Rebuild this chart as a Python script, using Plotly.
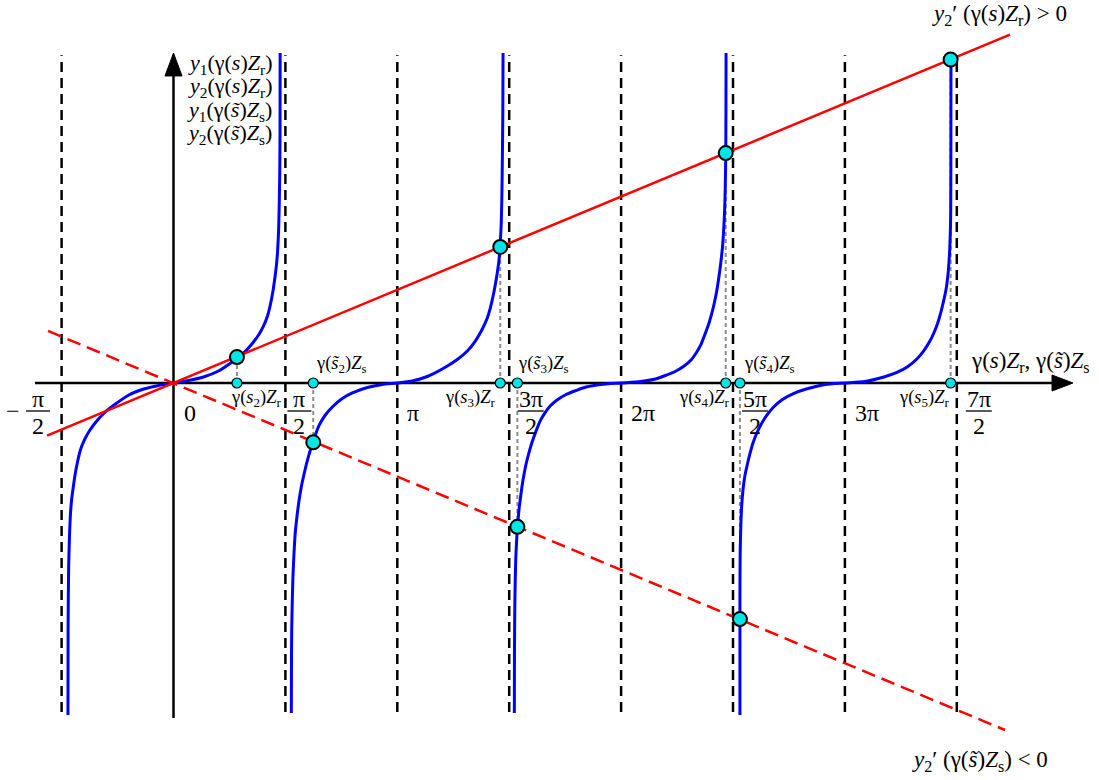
import plotly.graph_objects as go

# ---------------- data (x in units of pi/2, y in the same length unit) ----------------
asym_x = [-1, 1, 2, 3, 4, 5, 6, 7]          # dashed vertical guide lines
asym_y = [-2.94, 2.93]

branch_a_x = [-0.943, -0.942, -0.940, -0.937, -0.930, -0.922, -0.912, -0.898, -0.880, -0.858,
              -0.832, -0.796, -0.752, -0.690, -0.619, -0.531, -0.399, -0.265, -0.133, 0.0,
              0.134, 0.268, 0.402, 0.536, 0.626, 0.697, 0.760, 0.804, 0.840, 0.867,
              0.889, 0.907, 0.920, 0.931, 0.940, 0.946, 0.950, 0.952, 0.953]
branch_a_y = [-2.967, -2.234, -1.921, -1.653, -1.385, -1.189, -1.055, -0.947, -0.822, -0.706,
              -0.599, -0.509, -0.429, -0.344, -0.268, -0.197, -0.107, -0.054, -0.022, 0.0,
              0.022, 0.054, 0.107, 0.197, 0.268, 0.344, 0.429, 0.509, 0.599, 0.706,
              0.822, 0.947, 1.055, 1.189, 1.385, 1.653, 1.921, 2.234, 2.949]

branch_b_x = [1.053, 1.054, 1.056, 1.062, 1.068, 1.077, 1.088, 1.104, 1.120, 1.142,
              1.169, 1.205, 1.249, 1.303, 1.357, 1.419, 1.508, 1.598, 1.732, 1.866, 2.0,
              2.134, 2.268, 2.402, 2.536, 2.626, 2.697, 2.760, 2.804, 2.831, 2.858,
              2.880, 2.896, 2.910, 2.920, 2.929, 2.935, 2.939, 2.943, 2.945]
branch_b_y = [-2.949, -2.592, -2.234, -1.921, -1.716, -1.519, -1.340, -1.189, -1.063, -0.929,
              -0.804, -0.661, -0.518, -0.375, -0.286, -0.214, -0.139, -0.089, -0.040, -0.013, 0.0,
              0.018, 0.058, 0.125, 0.210, 0.286, 0.375, 0.483, 0.581, 0.670, 0.786,
              0.903, 1.001, 1.108, 1.251, 1.430, 1.698, 2.011, 2.413, 2.949]

branch_c_x = [3.046, 3.047, 3.050, 3.054, 3.059, 3.067, 3.077, 3.088, 3.102, 3.115, 3.133, 3.155,
              3.178, 3.205, 3.240, 3.276, 3.321, 3.366, 3.428, 3.508, 3.598, 3.687, 3.821, 4.0,
              4.176, 4.307, 4.396, 4.483, 4.563, 4.625, 4.668, 4.712, 4.747, 4.783, 4.809, 4.831,
              4.853, 4.870, 4.884, 4.897, 4.909, 4.918, 4.926, 4.931, 4.935, 4.937, 4.938]
branch_c_y = [-2.949, -2.413, -2.011, -1.761, -1.564, -1.394, -1.251, -1.126, -1.019, -0.920, -0.813, -0.706,
              -0.617, -0.527, -0.429, -0.340, -0.264, -0.206, -0.152, -0.103, -0.067, -0.036, -0.013, 0.0,
              0.013, 0.036, 0.067, 0.103, 0.152, 0.206, 0.264, 0.340, 0.429, 0.527, 0.617, 0.706,
              0.813, 0.920, 1.019, 1.126, 1.251, 1.394, 1.564, 1.761, 2.011, 2.413, 2.949]

branch_d_x = [5.062, 5.062, 5.063, 5.065, 5.070, 5.077, 5.090, 5.106, 5.129, 5.151, 5.180, 5.213,
              5.248, 5.301, 5.363, 5.442, 5.540, 5.655, 5.823, 6.0,
              6.179, 6.349, 6.465, 6.563, 6.643, 6.706, 6.760, 6.795, 6.828, 6.858, 6.880,
              6.903, 6.919, 6.932, 6.940, 6.945, 6.946, 6.947, 6.948]
branch_d_y = [-2.967, -1.966, -1.653, -1.475, -1.278, -1.108, -0.947, -0.831, -0.724, -0.634, -0.532, -0.447,
              -0.375, -0.290, -0.214, -0.147, -0.094, -0.054, -0.013, 0.0,
              0.013, 0.054, 0.094, 0.147, 0.214, 0.290, 0.375, 0.447, 0.532, 0.634, 0.724,
              0.831, 0.947, 1.108, 1.278, 1.475, 1.653, 1.966, 2.949]

red_pos_x = [-1.130, 7.475]
red_pos_y = [-0.471, 3.113]
red_neg_x = [-1.121, 7.431]
red_neg_y = [0.465, -3.101]

pt_x = [0.567, 1.249, 2.920, 3.073, 4.935, 5.062, 6.945]
pt_y = [0.232, -0.530, 1.216, -1.285, 2.055, -2.110, 2.890]
pt_labels = [
    "γ(<i>s</i><sub>2</sub>)<i>Z</i><sub>r</sub>",
    "γ(<i>s\u0303</i><sub>2</sub>)<i>Z</i><sub>s</sub>",
    "γ(<i>s</i><sub>3</sub>)<i>Z</i><sub>r</sub>",
    "γ(<i>s\u0303</i><sub>3</sub>)<i>Z</i><sub>s</sub>",
    "γ(<i>s</i><sub>4</sub>)<i>Z</i><sub>r</sub>",
    "γ(<i>s\u0303</i><sub>4</sub>)<i>Z</i><sub>s</sub>",
    "γ(<i>s</i><sub>5</sub>)<i>Z</i><sub>r</sub>",
]

frac_vals = [-1, 1, 3, 5, 7]
frac_nums = ["π", "π", "3π", "5π", "7π"]
frac_den = "2"
int_vals = [0, 2, 4, 6]
int_labels = ["0", "π", "2π", "3π"]

y_labels = [
    "<i>y</i><sub>1</sub>(γ(<i>s</i>)<i>Z</i><sub>r</sub>)",
    "<i>y</i><sub>2</sub>(γ(<i>s</i>)<i>Z</i><sub>r</sub>)",
    "<i>y</i><sub>1</sub>(γ(<i>s\u0303</i>)<i>Z</i><sub>s</sub>)",
    "<i>y</i><sub>2</sub>(γ(<i>s\u0303</i>)<i>Z</i><sub>s</sub>)",
]
x_title = "γ(<i>s</i>)<i>Z</i><sub>r</sub>, γ(<i>s\u0303</i>)<i>Z</i><sub>s</sub>"
pos_label = "<i>y</i><sub>2</sub>′ (γ(<i>s</i>)<i>Z</i><sub>r</sub>) &gt; 0"
neg_label = "<i>y</i><sub>2</sub>′ (γ(<i>s\u0303</i>)<i>Z</i><sub>s</sub>) &lt; 0"

# ---------------- layout geometry ----------------
PX = 111.9                       # pixels per data unit
X0, Y0 = 173.5, 383.0            # pixel position of the origin
W, H = 1099, 780
FONT = "Liberation Serif"

fig = go.Figure()

# dashed vertical guides
vx, vy = [], []
for a in asym_x:
    vx += [a, a, None]
    vy += [asym_y[0], asym_y[1], None]
fig.add_trace(go.Scatter(x=vx, y=vy, mode="lines",
                         line=dict(color="black", width=2.5, dash="10px,6px"),
                         hoverinfo="skip", showlegend=False))

# axes
fig.add_trace(go.Scatter(x=[-1.238, 7.9], y=[0, 0], mode="lines",
                         line=dict(color="black", width=2.5), hoverinfo="skip", showlegend=False))
fig.add_trace(go.Scatter(x=[0, 0], y=[-2.994, 2.80], mode="lines",
                         line=dict(color="black", width=2.5), hoverinfo="skip", showlegend=False))
fig.add_trace(go.Scatter(x=[7.851, 8.038, 7.851, 7.851], y=[0.0715, 0, -0.0715, 0.0715],
                         mode="lines", fill="toself", fillcolor="black",
                         line=dict(color="black", width=1), hoverinfo="skip", showlegend=False))
fig.add_trace(go.Scatter(x=[-0.076, 0, 0.076, -0.076], y=[2.744, 2.949, 2.744, 2.744],
                         mode="lines", fill="toself", fillcolor="black",
                         line=dict(color="black", width=1), hoverinfo="skip", showlegend=False))

# gray connectors from intersection points to the axis
gx, gy = [], []
for x, y in zip(pt_x, pt_y):
    gx += [x, x, None]
    gy += [0, y, None]
fig.add_trace(go.Scatter(x=gx, y=gy, mode="lines",
                         line=dict(color="#8c8c8c", width=2, dash="4px,3px"),
                         hoverinfo="skip", showlegend=False))

# blue branches
for bx, by in [(branch_a_x, branch_a_y), (branch_b_x, branch_b_y),
               (branch_c_x, branch_c_y), (branch_d_x, branch_d_y)]:
    fig.add_trace(go.Scatter(x=bx, y=by, mode="lines",
                             line=dict(color="#0000ff", width=3, shape="spline", smoothing=0.6),
                             hoverinfo="skip", showlegend=False))

# red lines
fig.add_trace(go.Scatter(x=red_pos_x, y=red_pos_y, mode="lines",
                         line=dict(color="#ff0000", width=2.5), hoverinfo="skip", showlegend=False))
fig.add_trace(go.Scatter(x=red_neg_x, y=red_neg_y, mode="lines",
                         line=dict(color="#ff0000", width=2.5, dash="14px,7px"),
                         hoverinfo="skip", showlegend=False))

# small points on the axis and large intersection points
fig.add_trace(go.Scatter(x=pt_x, y=[0] * len(pt_x), mode="markers",
                         marker=dict(size=10, color="#00e6e6", line=dict(color="black", width=1.2)),
                         hoverinfo="skip", showlegend=False))
fig.add_trace(go.Scatter(x=pt_x, y=pt_y, mode="markers",
                         marker=dict(size=14, color="#00e6e6", line=dict(color="black", width=2)),
                         hoverinfo="skip", showlegend=False))

ann = []
shapes = []

# point labels
label_pos = [("below", "left", -8), ("above", "left", 1), ("below", "right", -3),
             ("above", "left", -1), ("below", "right", 5), ("above", "left", 2),
             ("below", "right", 0)]
for x, txt, (side, anchor, xs) in zip(pt_x, pt_labels, label_pos):
    ann.append(dict(x=x, y=0, text=txt, showarrow=False, xanchor=anchor, yanchor="middle",
                    xshift=xs, yshift=(-15 if side == "below" else 19),
                    font=dict(size=18.5, family=FONT, color="black")))

# fraction tick labels
TICK = 24
frac_shift = {-1: -23.5, 1: 14, 3: 21.5, 5: 22, 7: 22}
for v, num in zip(frac_vals, frac_nums):
    cx = frac_shift[v]
    half = 12 if len(num) == 1 else 13
    ann.append(dict(x=v, y=0, text=num, showarrow=False, xanchor="center", yanchor="middle",
                    xshift=cx, yshift=-16, font=dict(size=TICK, family=FONT, color="black")))
    ann.append(dict(x=v, y=0, text=frac_den, showarrow=False, xanchor="center", yanchor="middle",
                    xshift=cx, yshift=-43, font=dict(size=TICK, family=FONT, color="black")))
    shapes.append(dict(type="line", xref="x", yref="y", xsizemode="pixel", ysizemode="pixel",
                       xanchor=v, yanchor=0, x0=cx - half, x1=cx + half, y0=-28, y1=-28,
                       line=dict(color="black", width=1.3)))
    if v < 0:
        ann.append(dict(x=v, y=0, text="−", showarrow=False, xanchor="center", yanchor="middle",
                        xshift=cx - 25, yshift=-28, font=dict(size=TICK, family=FONT, color="black")))

# integer tick labels
for v, t in zip(int_vals, int_labels):
    ann.append(dict(x=v, y=0, text=t, showarrow=False, xanchor="left", yanchor="middle",
                    xshift=8, yshift=-30, font=dict(size=TICK, family=FONT, color="black")))

# y-axis labels
for i, t in enumerate(y_labels):
    ann.append(dict(x=1, y=(Y0 - 64 - 23.3 * i) / PX, text=t, showarrow=False,
                    xanchor="right", yanchor="middle", xshift=-11,
                    font=dict(size=22, family=FONT, color="black")))

# x-axis title
ann.append(dict(x=7, y=0, text=x_title, showarrow=False, xanchor="left", yanchor="middle",
                xshift=12, yshift=21, font=dict(size=23, family=FONT, color="black")))

# line labels
ann.append(dict(x=(999 - X0) / PX, y=(Y0 - 15) / PX, text=pos_label, showarrow=False,
                xanchor="center", yanchor="middle", font=dict(size=23, family=FONT, color="black")))
ann.append(dict(x=(980 - X0) / PX, y=(Y0 - 761) / PX, text=neg_label, showarrow=False,
                xanchor="center", yanchor="middle", font=dict(size=23, family=FONT, color="black")))

fig.update_layout(
    width=W, height=H, autosize=False,
    margin=dict(l=0, r=0, t=0, b=0, pad=0),
    paper_bgcolor="white", plot_bgcolor="white",
    font=dict(family=FONT, color="black"),
    xaxis=dict(range=[-X0 / PX, (W - X0) / PX], visible=False, fixedrange=True),
    yaxis=dict(range=[(Y0 - H) / PX, Y0 / PX], visible=False, fixedrange=True),
    annotations=ann, shapes=shapes, showlegend=False,
)

fig.write_html("out.html", config={"displayModeBar": False})
